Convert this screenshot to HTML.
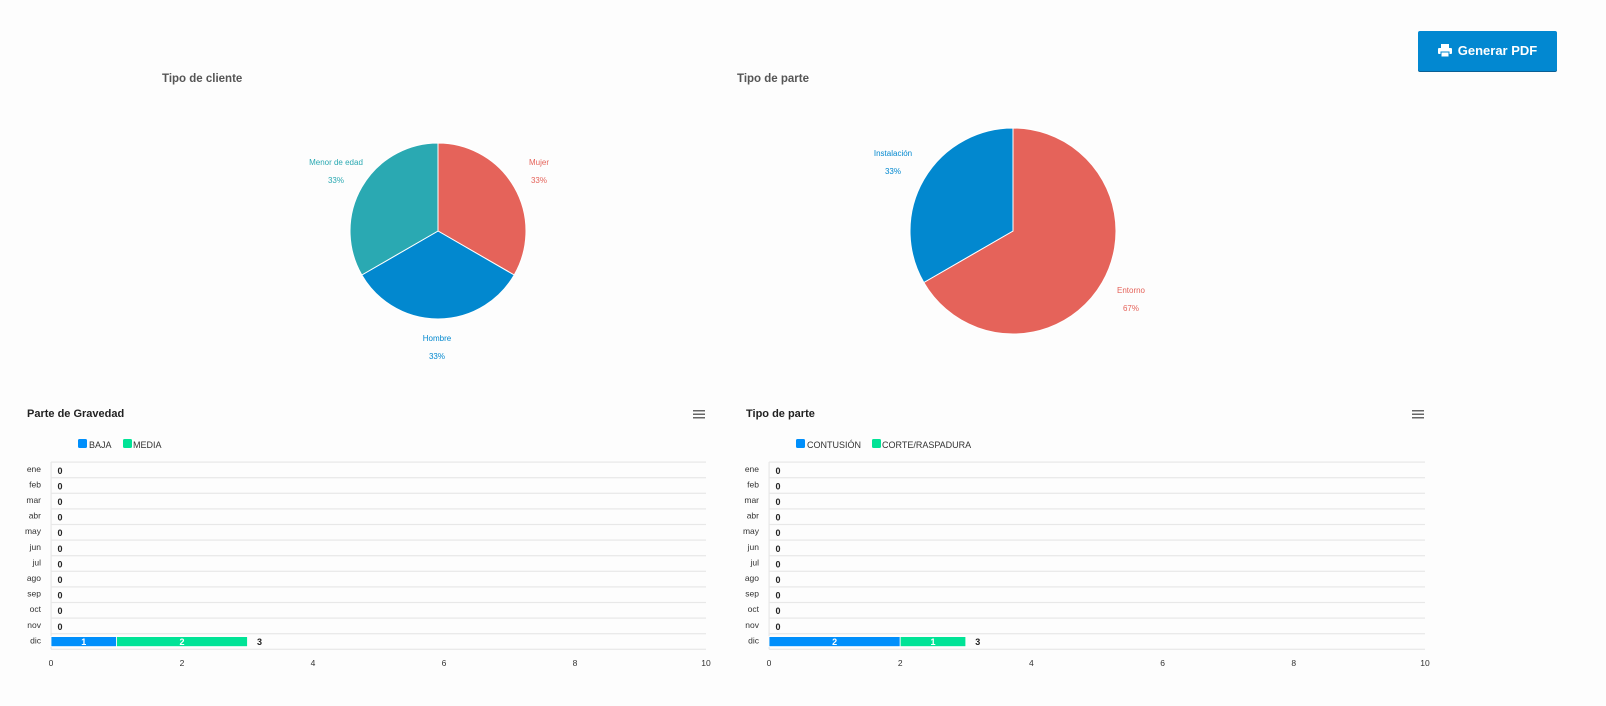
<!DOCTYPE html>
<html><head><meta charset="utf-8"><style>
body{margin:0;width:1606px;height:706px;background:#fdfdfd;font-family:"Liberation Sans",sans-serif;position:relative;overflow:hidden}
.t{position:absolute;font-weight:bold;font-size:11.5px;color:#333}
.btn{position:absolute;left:1418px;top:31px;width:139px;height:40px;background:#0288d1;border-radius:2px;box-shadow:0 1px 0 #0a5f94;color:#fff;font-weight:bold;font-size:13px;line-height:40px;text-align:center}
</style></head><body>
<div class="t" style="left:162px;top:73px;color:#555">Tipo de cliente</div>
<div class="t" style="left:737px;top:73px;color:#555">Tipo de parte</div>
<div class="btn"><svg width="14" height="13" viewBox="0 0 14 13" style="vertical-align:-2px;margin-right:6px"><rect x="3" y="0" width="8" height="4" fill="#fff"/><rect x="0" y="4" width="14" height="6" rx="1" fill="#fff"/><rect x="3" y="8" width="8" height="5" fill="#fff" stroke="#0288d1"/></svg>Generar PDF</div>
<svg width="1606" height="706" style="position:absolute;left:0;top:0" font-family="Liberation Sans, sans-serif">
<g stroke="#fff" stroke-width="1">
<path d="M438,231 L438,143 A88,88 0 0 1 514.2,275 Z" fill="#e5635a"/>
<path d="M438,231 L514.2,275 A88,88 0 0 1 361.8,275 Z" fill="#0288cf"/>
<path d="M438,231 L361.8,275 A88,88 0 0 1 438,143 Z" fill="#2aa9b2"/>
<path d="M1013,231 L1013,128 A103,103 0 1 1 923.8,282.5 Z" fill="#e5635a"/>
<path d="M1013,231 L923.8,282.5 A103,103 0 0 1 1013,128 Z" fill="#0288cf"/>
</g>
<g font-size="8" text-anchor="middle">
<text x="336" y="165" fill="#2aa9b2">Menor de edad</text><text x="336" y="183" fill="#2aa9b2">33%</text>
<text x="539" y="165" fill="#e5635a">Mujer</text><text x="539" y="183" fill="#e5635a">33%</text>
<text x="437" y="341" fill="#0288cf">Hombre</text><text x="437" y="359" fill="#0288cf">33%</text>
<text x="893" y="156" fill="#0288cf">Instalación</text><text x="893" y="174" fill="#0288cf">33%</text>
<text x="1131" y="293" fill="#e5635a">Entorno</text><text x="1131" y="311" fill="#e5635a">67%</text>
</g>
<g id="c1">
<text x="27" y="417" font-size="11" font-weight="bold" fill="#222">Parte de Gravedad</text>
<g fill="#666"><rect x="693" y="410" width="12" height="1.5"/><rect x="693" y="413.5" width="12" height="1.5"/><rect x="693" y="417" width="12" height="1.5"/></g>
</g>
<text x="746" y="417" font-size="11" font-weight="bold" fill="#222">Tipo de parte</text>
<g fill="#666"><rect x="1412" y="410" width="12" height="1.5"/><rect x="1412" y="413.5" width="12" height="1.5"/><rect x="1412" y="417" width="12" height="1.5"/></g>
<g font-size="9" fill="#333">
<rect x="78" y="439" width="9" height="9" rx="1.5" fill="#008ffb"/><text x="89" y="448">BAJA</text>
<rect x="123" y="439" width="9" height="9" rx="1.5" fill="#00e396"/><text x="133" y="448">MEDIA</text>
<rect x="796" y="439" width="9" height="9" rx="1.5" fill="#008ffb"/><text x="807" y="448">CONTUSIÓN</text>
<rect x="872" y="439" width="9" height="9" rx="1.5" fill="#00e396"/><text x="882" y="448">CORTE/RASPADURA</text>
</g>
<g id="rows"></g>
</svg>
<script>
var s=document.querySelector('#rows'),m=['ene','feb','mar','abr','may','jun','jul','ago','sep','oct','nov','dic'];
function ch(x0,x1,a,b){var h='',w=(x1-x0)/10,r=15.6,y0=462;
for(var i=0;i<=12;i++){var y=y0+i*r;h+='<rect x="'+x0+'" y="'+(y-0.5)+'" width="'+(x1-x0)+'" height="1.2" fill="#e8e8e8"/>';}
h+='<rect x="'+(x0-0.5)+'" y="'+y0+'" width="1.2" height="'+(12*r)+'" fill="#e8e8e8"/>';
for(i=0;i<12;i++){var yc=y0+i*r+r/2;h+='<text x="'+(x0-10)+'" y="'+(yc+2)+'" font-size="8.5" fill="#333" text-anchor="end">'+m[i]+'</text>';
if(i<11)h+='<text x="'+(x0+9)+'" y="'+(yc+4)+'" font-size="9" font-weight="bold" fill="#222" text-anchor="middle">0</text>';}
var yb=y0+11*r+3;
h+='<rect x="'+x0+'" y="'+yb+'" width="'+(a*w)+'" height="10" fill="#008ffb" stroke="#fff" stroke-width="0.8"/>';
h+='<rect x="'+(x0+a*w)+'" y="'+yb+'" width="'+(b*w)+'" height="10" fill="#00e396" stroke="#fff" stroke-width="0.8"/>';
h+='<text x="'+(x0+a*w/2)+'" y="'+(yb+8.5)+'" font-size="9" font-weight="bold" fill="#fff" text-anchor="middle">'+a+'</text>';
h+='<text x="'+(x0+a*w+b*w/2)+'" y="'+(yb+8.5)+'" font-size="9" font-weight="bold" fill="#fff" text-anchor="middle">'+b+'</text>';
h+='<text x="'+(x0+(a+b)*w+12)+'" y="'+(yb+8.5)+'" font-size="9" font-weight="bold" fill="#222" text-anchor="middle">3</text>';
for(i=0;i<=10;i+=2){h+='<text x="'+(x0+i*w)+'" y="666" font-size="8.5" fill="#333" text-anchor="middle">'+i+'</text>';}
return h;}
s.innerHTML=ch(51,706,1,2)+ch(769,1425,2,1);
</script>
</body></html>
